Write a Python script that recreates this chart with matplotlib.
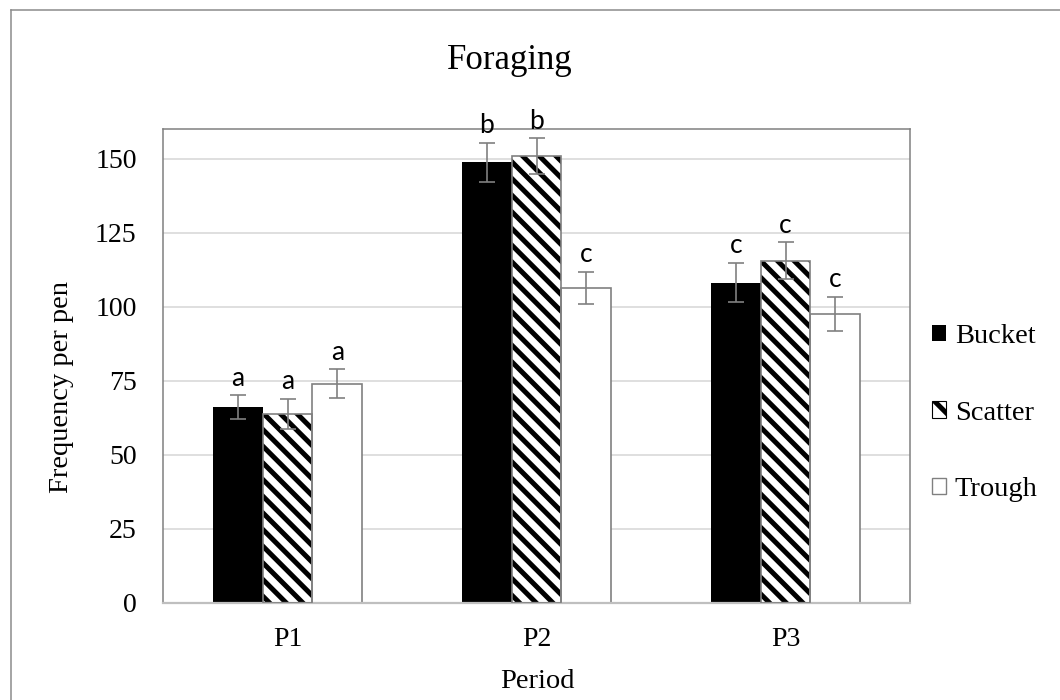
import matplotlib
matplotlib.use("Agg")
import numpy as np
import matplotlib.pyplot as plt
from matplotlib.patches import Patch
from matplotlib.lines import Line2D

periods = ["P1", "P2", "P3"]
groups = ["Bucket", "Scatter", "Trough"]

bucket = [66.1, 148.8, 108.2]
scatter = [63.8, 150.9, 115.6]
trough = [74.0, 106.5, 97.7]

bucket_err = [4.0, 6.5, 6.6]
scatter_err = [5.1, 6.0, 6.2]
trough_err = [4.9, 5.4, 5.7]

bucket_sig = ["a", "b", "c"]
scatter_sig = ["a", "b", "c"]
trough_sig = ["a", "c", "c"]

plt.rcParams['font.family'] = ['Liberation Serif', 'DejaVu Serif']
plt.rcParams['hatch.linewidth'] = 3.6
plt.rcParams['hatch.color'] = 'black'

W, H = 1060, 700
fig = plt.figure(figsize=(W / 100, H / 100), dpi=100)
ax = fig.add_axes([163 / W, 97 / H, 747 / W, 473.7 / H])

grey = '#808080'
x = np.arange(len(periods))
width = 0.2

series = [
    (bucket, bucket_err, bucket_sig, dict(color='black', edgecolor='black', linewidth=0)),
    (scatter, scatter_err, scatter_sig, dict(color='white', edgecolor='black', hatch='\\\\', linewidth=0)),
    (trough, trough_err, trough_sig, dict(color='white', edgecolor=grey, linewidth=1.2)),
]

for i, (vals, errs, sigs, style) in enumerate(series):
    pos = x + (i - 1) * width
    ax.bar(pos, vals, width, zorder=2, **style)
    if i == 1:
        # grey outline on top of the hatch
        ax.bar(pos, vals, width, fill=False, edgecolor=grey, linewidth=1.2, zorder=3)
    ax.errorbar(pos, vals, yerr=errs, fmt='none', ecolor=grey, elinewidth=1.2,
                capsize=5.5, capthick=1.2, zorder=4)
    for p, v, e, s in zip(pos, vals, errs, sigs):
        ax.text(p, v + e + 3.3, s, ha='center', va='baseline', fontsize=19,
                family=['Lato', 'DejaVu Sans'], clip_on=False, zorder=5)

ax.set_xlim(-0.5, 2.5)
ax.set_ylim(0, 160)
ax.set_yticks(np.arange(0, 151, 25))
ax.set_xticks(x)
ax.set_xticklabels(periods)
ax.tick_params(axis='both', length=0, labelsize=20)
ax.tick_params(axis='y', pad=19)
ax.tick_params(axis='x', pad=17)
ax.grid(axis='y', color='#d9d9d9', linewidth=1.2, zorder=0)
ax.set_axisbelow(True)
for side in ['left', 'right', 'top']:
    ax.spines[side].set_color(grey)
    ax.spines[side].set_linewidth(1.1)
ax.spines['bottom'].set_color('#bfbfbf')
ax.spines['bottom'].set_linewidth(1.6)

fig.text(509.6 / W, 1 - 69.3 / H, "Foraging", ha='center', va='baseline', fontsize=25)
fig.text(537 / W, 1 - 688 / H, "Period", ha='center', va='baseline', fontsize=20.5)
fig.text(62 / W, 1 - 387 / H, "Frequency per pen", ha='center', va='center',
         rotation=90, fontsize=20.5)

handles = [
    Patch(facecolor='black', edgecolor='black', linewidth=0),
    Patch(facecolor='white', edgecolor='black', hatch='\\', linewidth=0.8),
    Patch(facecolor='white', edgecolor=grey, linewidth=1.0),
]
fig.legend(handles, groups, loc='center left', bbox_to_anchor=(932 / W, 1 - 413 / H),
           frameon=False, fontsize=20.5, handlelength=0.5, handleheight=0.5,
           handletextpad=0.3, labelspacing=1.8, borderpad=0, borderaxespad=0)

# outer chart border (only left and top edges fall inside the picture)
fig.add_artist(Line2D([11 / W, 11 / W], [0, 1 - 10 / H], color='#8c8c8c', linewidth=1.1))
fig.add_artist(Line2D([11 / W, 1], [1 - 10 / H, 1 - 10 / H], color='#8c8c8c', linewidth=1.1))

fig.savefig('out.png', dpi=100)
